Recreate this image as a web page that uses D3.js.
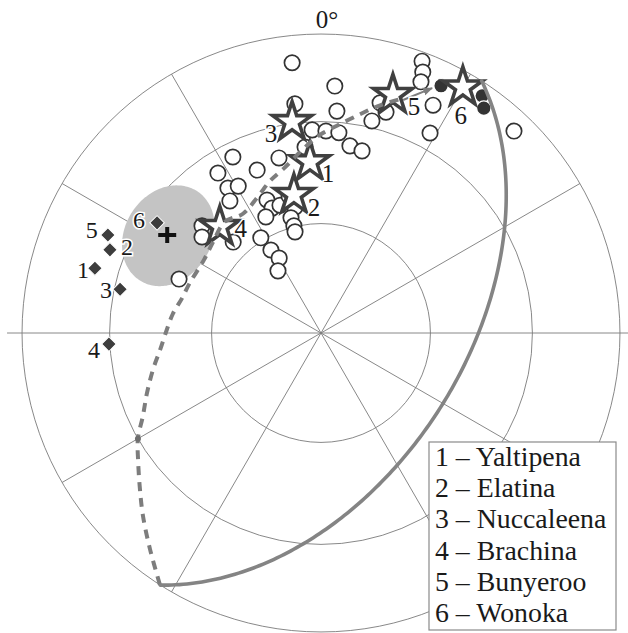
<!DOCTYPE html>
<html><head><meta charset="utf-8">
<script src="https://cdn.jsdelivr.net/npm/d3@7"></script>
<style>
html,body{margin:0;padding:0;background:#fff;}
svg{display:block;}
text{font-family:"Liberation Serif","Times New Roman",serif;fill:#1a1a1a;}
</style></head><body>
<svg id="chart" width="628" height="633"></svg>
<script>
// Directions as [declination, inclination] in degrees
const siteDirections = [
  [353.9,10.0],[353.5,23.9],[3.2,18.4],[4.1,26.5],[357.5,32.5],[1.4,32.9],[5.1,33.2],
  [8.8,36.8],[12.7,37.6],[355.1,37.6],[346.5,39.6],[338.6,41.1],[333.4,34.5],[327.2,36.5],
  [327.3,41.9],[330.6,43.0],[325.4,45.4],[312.0,45.5],[308.9,47.6],[316.0,55.2],[337.9,50.3],
  [338.6,53.0],[342.2,53.0],[334.6,54.6],[346.9,51.1],[348.3,54.6],[345.4,57.3],[345.8,59.7],
  [345.6,61.4],[327.7,59.1],[328.9,63.5],[330.8,66.6],[325.3,69.4],[290.8,47.9],[13.5,27.9],
  [14.4,21.6],[16.4,24.0],[20.4,3.4],[21.3,7.0],[21.7,10.5],[26.2,16.2],[28.6,24.8],[43.7,7.3]
];
const filledSites = [[25.9,8.9],[34.2,4.6],[35.9,7.9]];
const formationIds = ["1","2","3","4","5","6"];
const formationMeans = [[356.3,42.2],[348.9,51.1],[352.2,29.5],[316.4,49.4],[16.8,17.9],[30.0,5.7]];
const referenceDirections = [[286.0,22.4],[291.5,25.1],[282.3,31.8],[267.0,29.7],[294.7,22.6],[303.9,34.3]];
const overallMean = [302.5, 38.9];
const alpha95 = 13;
const trackPath = [
  [212.6,0],[218.4,8.7],[224.2,15.7],[229.2,21.1],[234.8,26.1],[240,30],[245.0,34.6],
  [251.0,38.4],[257.9,42.1],[264.0,45.0],[270.0,46.9],[277.3,48.6],[284.1,50.4],[290.9,51.2],
  [302.0,51.9],[310.1,51.0],[319.1,49.3],[326.8,50.6],[335.1,48.4],[341.5,45.4],[347.4,42.9],
  [354.1,38.4],[359.7,34.1],[4.4,31.1],[10.1,26.6],[14.1,22.8],[18.7,18.5]
];
const trackNode = [240,30];
const trackArrow = [[19.4,18.5],[24.4,11.0]];
const inclinationRings = [0,30,60];
const spokeDeclinations = [30,60,120,150,210,240,300,330];
const formationNames = ["Yaltipena","Elatina","Nuccaleena","Brachina","Bunyeroo","Wonoka"];
const northLabel = "0°";

const svg = d3.select("#chart");
const W = 628, H = 633;
svg.append("rect").attr("width",W).attr("height",H).attr("fill","#fff");

// equal-area (Schmidt) net, viewed from the pole
const projection = d3.geoAzimuthalEqualArea()
  .rotate([0,-90]).scale(211.4).translate([321,333]).clipAngle(90);
const geoPath = d3.geoPath(projection);
const toGeo = ([d,i]) => [180 - d, i];
const P = di => projection(toGeo(di));
const center = projection([0,90]);

const grid = svg.append("g").attr("fill","none").attr("stroke","#7a7a7a").attr("stroke-width",0.9);
inclinationRings.forEach(inc => {
  const p = projection([0,inc]);
  grid.append("circle").attr("cx",center[0]).attr("cy",center[1])
    .attr("r", Math.hypot(p[0]-center[0], p[1]-center[1]));
});
spokeDeclinations.forEach(d => {
  const p = P([d,0]);
  grid.append("line").attr("x1",center[0]).attr("y1",center[1]).attr("x2",p[0]).attr("y2",p[1]);
});
{
  const w = P([270,0]), e = P([90,0]);
  grid.append("line").attr("x1",w[0]-15).attr("y1",w[1]).attr("x2",e[0]+15).attr("y2",e[1]);
}

// confidence cone around the overall mean
svg.append("path")
  .attr("d", geoPath(d3.geoCircle().center(toGeo(overallMean)).radius(alpha95).precision(2)()))
  .attr("fill","#c4c4c4");

// open site symbols
svg.append("g").selectAll("circle").data(siteDirections).join("circle")
  .attr("cx",d=>P(d)[0]).attr("cy",d=>P(d)[1]).attr("r",7.7)
  .attr("fill","#fff").attr("stroke","#333").attr("stroke-width",1.7);

// filled site symbols
svg.append("g").selectAll("circle").data(filledSites).join("circle")
  .attr("cx",d=>P(d)[0]).attr("cy",d=>P(d)[1]).attr("r",7.2)
  .attr("fill","#333").attr("stroke","#fff").attr("stroke-width",1.2);

// formation means (stars)
const star = d3.symbol().type(d3.symbolStar).size(470);
svg.append("g").selectAll("path").data(formationMeans).join("path")
  .attr("d",star).attr("transform",d=>`translate(${P(d)})`)
  .attr("fill","#fff").attr("stroke","#404040").attr("stroke-width",3.6)
  .attr("stroke-linejoin","miter");

// track through the formation means
const trackPts = trackPath.map(P);
svg.append("path")
  .attr("d", d3.line().curve(d3.curveCatmullRom.alpha(0.5))(trackPts))
  .attr("fill","none").attr("stroke","#7d7d7d").attr("stroke-width",4)
  .attr("stroke-dasharray","9,7");
svg.append("circle").attr("cx",P(trackNode)[0]).attr("cy",P(trackNode)[1]).attr("r",3).attr("fill","#6e6e6e");
svg.append("defs").append("marker").attr("id","arrowHead")
  .attr("viewBox","0 0 10 10").attr("refX",9).attr("refY",5)
  .attr("markerWidth",5).attr("markerHeight",5).attr("orient","auto")
  .append("path").attr("d","M0,1L10,5L0,9z").attr("fill","#7d7d7d");
{
  const a = P(trackArrow[0]), b = P(trackArrow[1]);
  svg.append("line").attr("x1",a[0]).attr("y1",a[1]).attr("x2",b[0]).attr("y2",b[1])
    .attr("stroke","#7d7d7d").attr("stroke-width",2).attr("marker-end","url(#arrowHead)");
}

// great circle whose pole is the overall mean
const gc = d3.geoCircle().center(toGeo(overallMean)).radius(90).precision(1)();
svg.append("path")
  .attr("d", geoPath({type:"LineString", coordinates: gc.coordinates[0]}))
  .attr("fill","none").attr("stroke","#848484").attr("stroke-width",3.6).attr("stroke-linecap","round");

// reference directions (diamonds)
const diamond = d3.symbol().type(d3.symbolSquare).size(105);
svg.append("g").selectAll("path").data(referenceDirections).join("path")
  .attr("d",diamond).attr("transform",d=>`translate(${P(d)}) rotate(45)`)
  .attr("fill","#3d3d3d").attr("stroke","#fff").attr("stroke-width",1);

// mean cross
{
  const m = P(overallMean);
  const cross = svg.append("g").attr("stroke","#111").attr("stroke-width",4);
  cross.append("line").attr("x1",m[0]-9).attr("x2",m[0]+9).attr("y1",m[1]).attr("y2",m[1]);
  cross.append("line").attr("x1",m[0]).attr("x2",m[0]).attr("y1",m[1]-8).attr("y2",m[1]+8);
}

// labels with a white halo
function label(x, y, t, size){
  svg.append("text").attr("x",x).attr("y",y).attr("text-anchor","middle")
    .attr("font-size",size).attr("stroke","#fff").attr("stroke-width",3)
    .attr("paint-order","stroke").text(t);
}
const starLabelOffset = [[18,20],[20,21],[-21,20],[21,10],[21,20],[-2,37]];
formationMeans.forEach((d,k) => {
  const p = P(d);
  label(p[0]+starLabelOffset[k][0], p[1]+starLabelOffset[k][1], formationIds[k], 25);
});
const diamondLabelOffset = [[-12,10],[17,5],[-14,9],[-15,14],[-16,3],[-18,5]];
referenceDirections.forEach((d,k) => {
  const p = P(d);
  label(p[0]+diamondLabelOffset[k][0], p[1]+diamondLabelOffset[k][1], formationIds[k], 24);
});
{
  const n = P([0,0]);
  svg.append("text").attr("x",n[0]+6).attr("y",n[1]-6).attr("text-anchor","middle")
    .attr("font-size",25).text(northLabel);
}

// legend
const lg = svg.append("g").attr("transform","translate(429,442)");
lg.append("rect").attr("width",187).attr("height",188).attr("fill","#fff")
  .attr("stroke","#8a8a8a").attr("stroke-width",1.2);
formationNames.forEach((name,k) => {
  lg.append("text").attr("x",6).attr("y",24 + k*31.2).attr("font-size",27.8)
    .text(`${formationIds[k]} – ${name}`);
});
</script>
</body></html>
